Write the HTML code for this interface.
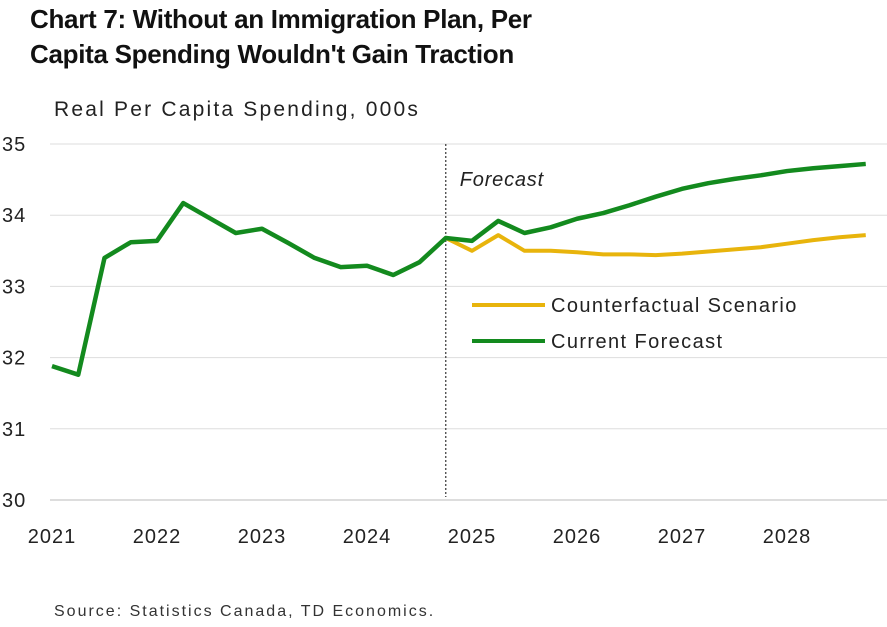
<!DOCTYPE html>
<html><head><meta charset="utf-8"><style>
body{margin:0;background:#fff;font-family:"Liberation Sans",sans-serif;}
#wrap{position:relative;width:887px;height:627px;overflow:hidden;}
.title{position:absolute;left:30px;top:2px;font-size:26px;font-weight:bold;line-height:35px;color:#111;letter-spacing:-0.3px}
.sub{position:absolute;left:54px;top:98px;font-size:21px;color:#222;letter-spacing:2.2px}
.src{position:absolute;left:54px;top:603px;font-size:16px;color:#333;letter-spacing:2px}
</style></head><body>
<div id="wrap">
<div class="title">Chart 7: Without an Immigration Plan, Per<br>Capita Spending Wouldn't Gain Traction</div>
<div class="sub">Real Per Capita Spending, 000s</div>
<svg id="svg" width="887" height="627" style="position:absolute;left:0;top:0"></svg>
<div class="src">Source: Statistics Canada, TD Economics.</div>
</div>
<script>
const yTicks=[30,31,32,33,34,35];
const xLabels=["2021","2022","2023","2024","2025","2026","2027","2028"];
const currentForecast=[31.88,31.76,33.40,33.62,33.64,34.17,33.96,33.75,33.81,33.61,33.40,33.27,33.29,33.16,33.34,33.68,33.64,33.92,33.75,33.83,33.95,34.03,34.14,34.26,34.37,34.45,34.51,34.56,34.62,34.66,34.69,34.72];
const counterfactual=[33.68,33.50,33.72,33.50,33.50,33.48,33.45,33.45,33.44,33.46,33.49,33.52,33.55,33.60,33.65,33.69,33.72];
const counterStart=15;
const forecastIndex=15;
const NS="http://www.w3.org/2000/svg";
const svg=document.getElementById('svg');
const X=i=>52+i*26.25;
const Y=v=>500-(v-30)*71.2;
function mk(t,a){const e=document.createElementNS(NS,t);for(const k in a)e.setAttribute(k,a[k]);svg.appendChild(e);return e;}
yTicks.forEach(v=>{
 const l=mk('line',{x1:50,x2:887,y1:Y(v),y2:Y(v),stroke:v===30?'#bbb':'#ddd','stroke-width':1});
 
 
 const t=mk('text',{x:2,y:Y(v)+7,'font-size':20,fill:'#222','font-family':'Liberation Sans','letter-spacing':1});
 t.textContent=v;
 
 
});
xLabels.forEach((s,i)=>{
 const t=mk('text',{x:X(i*4),y:543,'font-size':20,fill:'#222','text-anchor':'middle','font-family':'Liberation Sans','letter-spacing':1});
 t.textContent=s;
 
 
});
const fl=mk('line',{x1:X(forecastIndex),x2:X(forecastIndex),y1:144,y2:497,stroke:'#444','stroke-width':1.3,'stroke-dasharray':'2,2'});


const ft=mk('text',{x:X(forecastIndex)+14,y:186,'font-size':20,'font-style':'italic',fill:'#222','font-family':'Liberation Sans','letter-spacing':0.8});
ft.textContent='Forecast';


const cp=mk('polyline',{points:counterfactual.map((v,i)=>X(i+counterStart)+','+Y(v)).join(' '),fill:'none',stroke:'#e8b40c','stroke-width':4,'stroke-linejoin':'round'});


const gp=mk('polyline',{points:currentForecast.map((v,i)=>X(i)+','+Y(v)).join(' '),fill:'none',stroke:'#138a1e','stroke-width':4.5,'stroke-linejoin':'round'});


[['Counterfactual Scenario','#e8b40c',305],['Current Forecast','#138a1e',341]].forEach(([s,c,y])=>{
 const l=mk('line',{x1:472,x2:545,y1:y,y2:y,stroke:c,'stroke-width':4});
 
 
 const t=mk('text',{x:551,y:y+7,'font-size':20,fill:'#222','font-family':'Liberation Sans','letter-spacing':1.4});
 t.textContent=s;
 
 
});
</script>
</body></html>
